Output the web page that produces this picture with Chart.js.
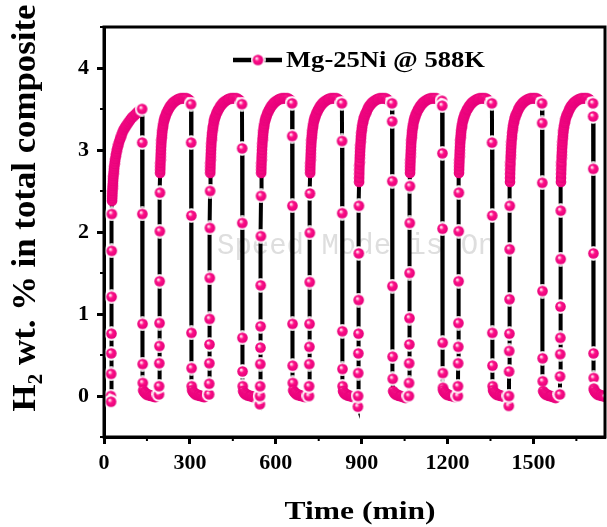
<!DOCTYPE html>
<html>
<head>
<meta charset="utf-8">
<script src="https://cdn.jsdelivr.net/npm/chart.js@4.4.0/dist/chart.umd.min.js"></script>
<style>
  html, body { margin: 0; padding: 0; background: #fff; }
  canvas { display: block; }
</style>
</head>
<body>
<canvas id="chart" width="607" height="527"></canvas>
<script>
// cycle timing (min): start of each absorption step and each desorption step
const absorbStart = [28, 196, 371, 549, 720, 891, 1069, 1240, 1418, 1596]
const desorbStart = [133, 304, 482, 657, 831, 1006, 1181, 1355, 1530, 1708]

// sampling offsets (min) relative to those start times
const riseOffsets = [-4.5, -4, -3.5, -3, -2.5, -2, -1.5, -1, -0.5]
const arcOffsets = [0, 0.3, 0.6, 1, 1.4, 1.8, 2.3, 2.8, 3.4, 4, 4.7, 5.4, 6.2, 7, 8, 9, 10, 11.5, 13, 14.5, 16,
  18, 20, 22.5, 25, 27.5, 30, 33, 36, 39.5, 43, 46.5, 50, 54, 58, 62, 66, 70.5, 75, 79.5, 84, 88.5, 93, 97.5, 102]
const fallOffsets = [0, 0.5, 1, 1.5, 2, 2.5, 3]
const baseOffsets = [4, 7, 10, 13, 16, 19, 22, 25, 28, 31, 34, 37, 40, 43, 46, 49]

// H2 wt.%
const riseValues = [
  [0.0, -0.07, 0.27, 0.52, 0.76, 1.21, 1.77, 2.22],
  [0.02, 0.12, 0.40, 0.61, 0.89, 1.40, 2.01, 2.48],
  [0.02, 0.15, 0.40, 0.63, 0.94, 1.44, 2.05, 2.50],
  [-0.10, 0.0, 0.12, 0.39, 0.59, 0.85, 1.35, 1.95, 2.44],
  [0.0, 0.12, 0.39, 0.60, 0.88, 1.39, 1.99, 2.47],
  [-0.13, 0.0, 0.28, 0.52, 0.76, 1.17, 1.74, 2.32],
  [0.0, 0.16, 0.40, 0.63, 0.95, 1.50, 2.11, 2.56],
  [0.0, 0.12, 0.40, 0.60, 0.89, 1.40, 2.01, 2.48],
  [-0.12, 0.0, 0.30, 0.55, 0.76, 1.18, 1.79, 2.32],
  [0.02, 0.24, 0.51, 0.71, 1.09, 1.67, 2.26]
]

// absorption plateaus: first (activation) cycle, and the two shapes of the later cycles
const arcFirst = [2.38, 2.41, 2.44, 2.47, 2.50, 2.53, 2.56, 2.59, 2.62, 2.65, 2.68, 2.71, 2.74, 2.77, 2.80, 2.83,
  2.86, 2.89, 2.92, 2.95, 2.98, 3.01, 3.04, 3.07, 3.10, 3.13, 3.15, 3.18, 3.21, 3.24, 3.26, 3.28, 3.30, 3.32,
  3.34, 3.36, 3.38, 3.40, 3.41, 3.43, 3.44, 3.46, 3.47, 3.49, 3.50]
const arcHigh = [2.72, 2.76, 2.80, 2.84, 2.88, 2.92, 2.96, 3.00, 3.04, 3.08, 3.12, 3.15, 3.18, 3.21, 3.24, 3.27,
  3.29, 3.32, 3.35, 3.37, 3.39, 3.41, 3.43, 3.45, 3.47, 3.49, 3.50, 3.52, 3.54, 3.55, 3.57, 3.58, 3.59, 3.60,
  3.61, 3.62, 3.62, 3.63, 3.63, 3.63, 3.63, 3.63, 3.63, 3.62, 3.61]
const arcLow = [2.61, 2.66, 2.71, 2.76, 2.81, 2.85, 2.90, 2.94, 2.98, 3.02, 3.06, 3.10, 3.14, 3.17, 3.21, 3.24,
  3.27, 3.30, 3.33, 3.35, 3.38, 3.40, 3.42, 3.44, 3.46, 3.48, 3.50, 3.52, 3.54, 3.55, 3.57, 3.58, 3.59, 3.60,
  3.61, 3.62, 3.62, 3.63, 3.63, 3.63, 3.63, 3.63, 3.63, 3.62, 3.61]
const arcValues = [arcFirst, arcHigh, arcHigh, arcHigh, arcHigh, arcLow, arcHigh, arcHigh, arcLow, arcLow]

const fallValues = [
  [3.50, 3.09, 2.22, 0.88, 0.39, 0.16],
  [3.56, 3.09, 2.20, 0.77, 0.34, 0.12],
  [3.56, 3.02, 2.11, 0.71, 0.30, 0.12],
  [3.57, 3.17, 2.32, 0.88, 0.37, 0.16],
  [3.57, 3.11, 2.23, 0.79, 0.33, 0.12],
  [3.57, 3.35, 2.62, 1.34, 0.48, 0.21],
  [3.60, 3.54, 2.96, 2.04, 0.65, 0.28, 0.10],
  [3.57, 3.09, 2.20, 0.77, 0.37, 0.12],
  [3.57, 3.33, 2.60, 1.28, 0.46, 0.18],
  [3.57, 3.41, 2.77, 1.74, 0.52, 0.22, 0.09]
]

// residual hydrogen between desorption and next absorption
const baseA = [0.07, 0.05, 0.04, 0.03, 0.02, 0.02, 0.01, 0.01, 0.01, 0.0, 0.0, 0.0, 0.0, -0.01, -0.01, -0.01]
const baseB = [0.06, 0.04, 0.03, 0.02, 0.02, 0.01, 0.01, 0.0, 0.0, 0.0, 0.0, -0.01, -0.01, -0.01, -0.02, -0.02]
const baseValues = [baseA, baseA, baseB, baseA, baseB, baseB, baseA, baseA, baseB, baseA]

const seriesLabel = 'Mg-25Ni @ 588K'
const xTitle = 'Time (min)'
const serif = '"Liberation Serif", "Times New Roman", serif'

// glossy pink marker, optionally with a white ring so the line shows a gap
function makeBall(ring) {
  const r = 5.3
  const pad = ring ? 2 : 0.5
  const size = Math.ceil(2 * (r + pad))
  const c = document.createElement('canvas')
  c.width = size
  c.height = size
  const g = c.getContext('2d')
  const m = size / 2
  if (ring) {
    g.fillStyle = '#ffffff'
    g.beginPath()
    g.arc(m, m, r + pad, 0, Math.PI * 2)
    g.fill()
  }
  const grad = g.createRadialGradient(m - 1.6, m - 1.8, 0.2, m, m, r)
  grad.addColorStop(0, '#ffffff')
  grad.addColorStop(0.16, '#ffb3d8')
  grad.addColorStop(0.42, '#ff1088')
  grad.addColorStop(1, '#e4007a')
  g.fillStyle = grad
  g.beginPath()
  g.arc(m, m, r, 0, Math.PI * 2)
  g.fill()
  return c
}
const ball = makeBall(false)
const ringBall = makeBall(true)

// assemble the time series cycle by cycle
const points = []
const dense = []
for (let c = 0; c < absorbStart.length; c++) {
  const rise = riseValues[c]
  const riseT = riseOffsets.slice(riseOffsets.length - rise.length)
  rise.forEach((v, i) => { points.push({ x: absorbStart[c] + riseT[i], y: v }); dense.push(false) })
  arcValues[c].forEach((v, i) => { points.push({ x: absorbStart[c] + arcOffsets[i], y: v }); dense.push(true) })
  fallValues[c].forEach((v, i) => { points.push({ x: desorbStart[c] + fallOffsets[i], y: v }); dense.push(false) })
  baseValues[c].forEach((v, i) => { points.push({ x: desorbStart[c] + baseOffsets[i], y: v }); dense.push(true) })
}

function fitText(ctx, text, x, y, width) {
  const w = ctx.measureText(text).width
  ctx.save()
  ctx.translate(x, y)
  ctx.scale(width / w, 1)
  ctx.fillText(text, -w / 2, 0)
  ctx.restore()
}

const decorations = {
  id: 'decorations',
  beforeDatasetsDraw(chart) {
    const ctx = chart.ctx
    ctx.save()
    ctx.font = '29px "Liberation Mono", monospace'
    ctx.fillStyle = '#dedede'
    ctx.textBaseline = 'middle'
    ctx.textAlign = 'left'
    ctx.fillText('Speed Mode is On', 217, 246)
    ctx.restore()
  },
  afterDraw(chart) {
    const ctx = chart.ctx
    const area = chart.chartArea
    ctx.save()

    // frame
    ctx.strokeStyle = '#000'
    ctx.lineWidth = 3
    ctx.strokeRect(area.left, area.top, area.right - area.left, area.bottom - area.top)

    // minor ticks
    ctx.lineWidth = 2
    ctx.beginPath()
    chart.scales.x.ticks.forEach(t => {
      if (t.value % 300 !== 0) {
        const px = chart.scales.x.getPixelForValue(t.value)
        ctx.moveTo(px, area.bottom)
        ctx.lineTo(px, area.bottom + 4)
      }
    })
    chart.scales.y.ticks.forEach(t => {
      if (!Number.isInteger(t.value)) {
        const py = chart.scales.y.getPixelForValue(t.value)
        ctx.moveTo(area.left, py)
        ctx.lineTo(area.left - 4, py)
      }
    })
    ctx.stroke()

    // legend
    ctx.lineWidth = 4.5
    ctx.beginPath()
    ctx.moveTo(233, 60)
    ctx.lineTo(282, 60)
    ctx.stroke()
    ctx.drawImage(ringBall, 258 - ringBall.width / 2, 60 - ringBall.height / 2)
    ctx.fillStyle = '#000'
    ctx.textBaseline = 'alphabetic'
    ctx.font = 'bold 23px ' + serif
    fitText(ctx, seriesLabel, 385.5, 67, 199)

    // x title
    ctx.font = 'bold 26px ' + serif
    fitText(ctx, xTitle, 360, 519, 151)

    // y title with subscript
    ctx.translate(35, 208)
    ctx.rotate(-Math.PI / 2)
    const big = 'bold 34px ' + serif
    const small = 'bold 21px ' + serif
    const rest = ' wt. % in total composite'
    ctx.font = big
    const wH = ctx.measureText('H').width
    const wRest = ctx.measureText(rest).width
    ctx.font = small
    const w2 = ctx.measureText('2').width
    const total = wH + w2 + wRest
    ctx.scale(407 / total, 1)
    const x0 = -total / 2
    ctx.font = big
    ctx.fillText('H', x0, 0)
    ctx.font = small
    ctx.fillText('2', x0 + wH, 7)
    ctx.font = big
    ctx.fillText(rest, x0 + wH + w2, 0)
    ctx.restore()
  }
}

new Chart(document.getElementById('chart'), {
  type: 'line',
  data: {
    datasets: [{
      label: seriesLabel,
      data: points,
      borderColor: '#000',
      borderWidth: 4,
      tension: 0,
      fill: false,
      pointRadius: 5,
      pointHoverRadius: 5,
      pointStyle: ctx => dense[ctx.dataIndex] ? ball : ringBall
    }]
  },
  options: {
    responsive: false,
    animation: false,
    devicePixelRatio: 1,
    layout: { autoPadding: false, padding: { top: 27, right: 2, left: 0, bottom: 0 } },
    plugins: {
      legend: { display: false },
      tooltip: { enabled: false }
    },
    scales: {
      x: {
        type: 'linear',
        min: 0,
        max: 1750,
        afterFit: s => {
          s.height = 90
          s.paddingLeft = 0
          s.paddingRight = 0
        },
        border: { display: true, color: '#000', width: 3 },
        grid: {
          drawOnChartArea: false,
          drawTicks: true,
          tickLength: 7,
          tickWidth: 3,
          tickColor: ctx => ctx.tick && ctx.tick.value % 300 === 0 ? '#000' : 'rgba(0,0,0,0)'
        },
        ticks: {
          stepSize: 150,
          autoSkip: false,
          maxRotation: 0,
          includeBounds: false,
          padding: 6,
          color: '#000',
          font: { family: serif, size: 22, weight: 'bold' },
          callback: v => v % 300 === 0 ? String(v) : ''
        }
      },
      y: {
        min: -0.5,
        max: 4.5,
        afterFit: s => {
          s.width = 104
          s.paddingTop = 0
          s.paddingBottom = 0
        },
        border: { display: true, color: '#000', width: 3 },
        grid: {
          drawOnChartArea: false,
          drawTicks: true,
          tickLength: 7,
          tickWidth: 3,
          tickColor: ctx => ctx.tick && Number.isInteger(ctx.tick.value) ? '#000' : 'rgba(0,0,0,0)'
        },
        ticks: {
          stepSize: 0.5,
          autoSkip: false,
          includeBounds: false,
          padding: 8,
          color: '#000',
          font: { family: serif, size: 22, weight: 'bold' },
          callback: v => Number.isInteger(v) ? String(v) : ''
        }
      }
    }
  },
  plugins: [decorations]
})
</script>
</body>
</html>
